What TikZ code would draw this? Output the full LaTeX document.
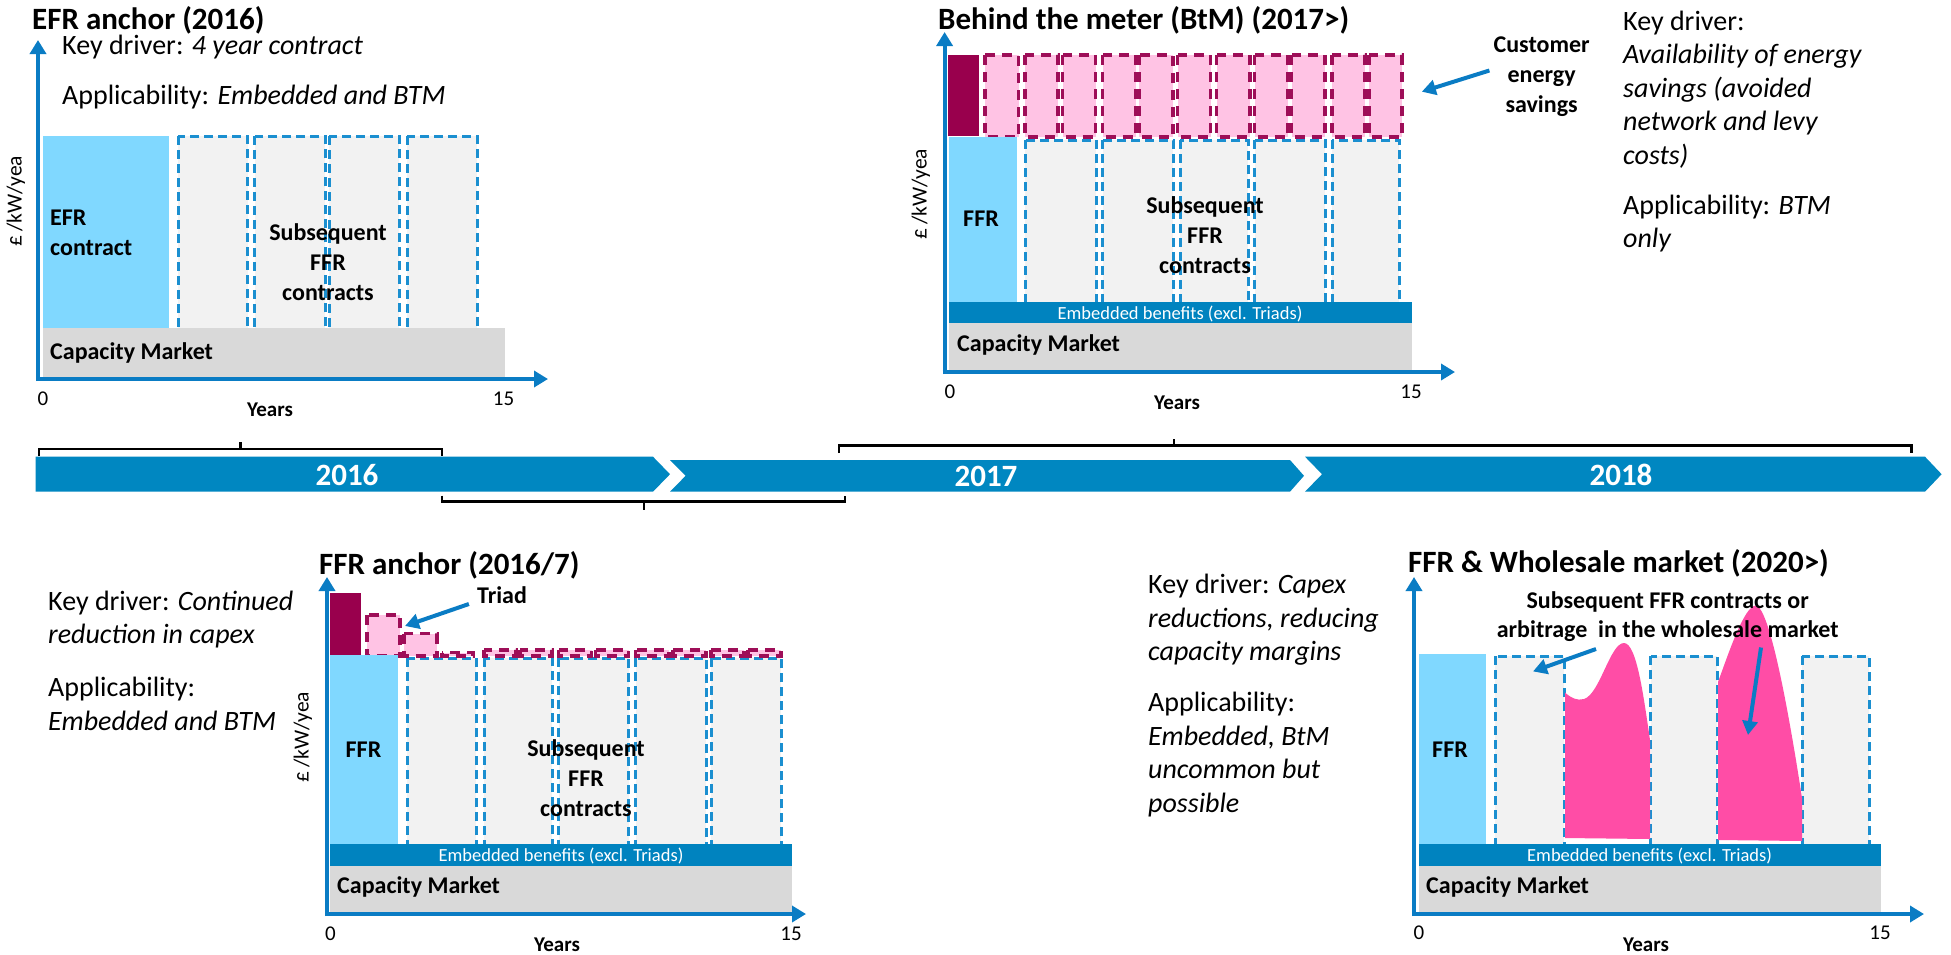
\documentclass[tikz,border=0pt]{standalone}
\usepackage{fontspec}
\setmainfont{Carlito}
\usetikzlibrary{arrows.meta}
\definecolor{tl}{HTML}{0087C1}
\definecolor{axb}{HTML}{0A7CC4}
\definecolor{lb}{HTML}{80D8FF}
\definecolor{gbox}{HTML}{F2F2F2}
\definecolor{dashb}{HTML}{1B8FD0}
\definecolor{cmk}{HTML}{D9D9D9}
\definecolor{embc}{HTML}{0083BF}
\definecolor{dm}{HTML}{99004D}
\definecolor{pk}{HTML}{FFC3E4}
\definecolor{pkb}{HTML}{9E0E58}
\definecolor{hp}{HTML}{FF4DA6}
\tikzset{
 ttl/.style={font=\fontsize{31}{36}\selectfont\bfseries, inner sep=0pt},
 body/.style={font=\fontsize{28}{33.5}\selectfont, inner sep=0pt, align=left},
 lab/.style={font=\fontsize{24}{30}\selectfont\bfseries, inner sep=0pt, align=center},
 labl/.style={lab, align=left},
 emb/.style={font=\fontsize{18.5}{20}\selectfont, text=white, inner sep=0pt},
 ticklab/.style={font=\fontsize{21}{24}\selectfont, inner sep=0pt},
 yrs/.style={font=\fontsize{21}{24}\selectfont\bfseries, inner sep=0pt},
 ylab/.style={font=\fontsize{21.5}{24}\selectfont, rotate=90, inner sep=0pt},
 tly/.style={font=\fontsize{31}{34}\selectfont\bfseries, text=white, inner sep=0pt},
 chartaxis/.style={draw=axb, line width=4pt, -{Triangle[length=14pt,width=16pt]}},
 callout/.style={draw=axb, line width=4pt, -{Triangle[length=14pt,width=15pt]}},
 fbox/.style={draw=dashb, fill=gbox, line width=3pt, dash pattern=on 9pt off 5pt},
 pbox/.style={draw=pkb, fill=pk, line width=3.2pt, dash pattern=on 10pt off 7pt},
 brk/.style={draw=black, line width=2.5pt},
}
\begin{document}
\begin{tikzpicture}[x=1pt,y=-1pt]
\useasboundingbox (0,0) rectangle (1951,954);
\fill[white] (0,0) rectangle (1951,954);

% ================= Panel 1: EFR anchor =================
\fill[lb] (43,136) rectangle (169,328);
\foreach \a/\b in {178/247.5, 254.6/325, 329/399, 407/477}
  \draw[fbox] (\a,136) rectangle (\b,329);
\fill[cmk] (43,328) rectangle (505,378);
\draw[chartaxis] (38,381) -- (38,40);
\draw[chartaxis] (36,379) -- (548,379);
\node[ttl, anchor=west] (t1) at (32,20) {EFR anchor (2016)};
\node[body, anchor=west] (k1) at (62,47) {Key driver: \textit{4 year contract}};
\node[body, anchor=west] (a1) at (62,97) {Applicability: \textit{Embedded and BTM}};
\node[labl, anchor=west] (efr1) at (50,232.5) {EFR\\contract};
\node[lab] (sub1) at (328,262) {Subsequent\\FFR\\contracts};
\node[lab, anchor=west] (cm1) at (50,353) {Capacity Market};
\node[ticklab] (z1) at (43,398.5) {0};
\node[ticklab] (f1) at (503.6,398.5) {15};
\node[yrs] (y1) at (270,410) {Years};
\node[ylab] (yl1) at (16,201) {£\,/kW/yea};

% ================= Panel 2: Behind the meter =================
\fill[dm] (947.5,55) rectangle (978.6,136);
\foreach \a/\b in {985/1018.6, 1025/1058, 1062.5/1095.7, 1102.5/1135.7, 1139/1173, 1177.5/1210.7, 1216.8/1250, 1254.6/1288, 1291.8/1325, 1332/1365, 1369/1402}
  \draw[pbox] (\a,55) rectangle (\b,137);
\fill[lb] (949,137) rectangle (1017,304);
\foreach \a/\b in {1025/1096, 1102.5/1173, 1180/1248, 1254.6/1325, 1332/1399}
  \draw[fbox] (\a,140) rectangle (\b,305);
\fill[embc] (949,302) rectangle (1412,323);
\fill[cmk] (949,323) rectangle (1412,370);
\draw[chartaxis] (944.6,374) -- (944.6,32);
\draw[chartaxis] (942.6,372) -- (1455,372);
\node[ttl, anchor=west] (t2) at (938,20) {Behind the meter (BtM) (2017>)};
\node[lab] (ffr2) at (981,219) {FFR};
\node[lab] (sub2) at (1205,235) {Subsequent\\FFR\\contracts};
\node[emb] (eb2) at (1180,314) {Embedded benefits (excl. Triads)};
\node[lab, anchor=west] (cm2) at (957,345) {Capacity Market};
\node[ticklab] (z2) at (950,392) {0};
\node[ticklab] (f2) at (1411,392) {15};
\node[yrs] (y2) at (1177,403) {Years};
\node[ylab] (yl2) at (921,194) {£\,/kW/yea};
\node[lab] (ces) at (1541.6,76.5) {Customer\\energy\\savings};
\coordinate (cesT) at (1421.8,91.7);
\draw[callout] (ces.west) ++(-4,-6) -- (cesT);
\node[body, anchor=west] (k2) at (1623,89.3) {Key driver:\\\textit{Availability of energy}\\\textit{savings (avoided}\\\textit{network and levy}\\\textit{costs)}};
\node[body, anchor=west] (a2) at (1623,223.4) {Applicability: \textit{BTM}\\\textit{only}};

% ================= Timeline =================
\fill[tl] (35.6,456.7) -- (653,456.7) -- (670,474.2) -- (653,491.7) -- (35.6,491.7) -- cycle;
\fill[tl] (670,460) -- (1290,460) -- (1304,475.8) -- (1290,491.7) -- (670,491.7) -- (685.6,475.8) -- cycle;
\fill[tl] (1305,456.7) -- (1925,456.7) -- (1941.6,474.2) -- (1925,491.7) -- (1305,491.7) -- (1322,474.2) -- cycle;
\node[tly] (y2016) at (347,475) {2016};
\node[tly] (y2017) at (986,476) {2017};
\node[tly] (y2018) at (1621,475) {2018};
\draw[brk] (39,456) -- (39,449) -- (442,449) -- (442,456);
\draw[brk] (240.6,449) -- (240.6,442);
\draw[brk] (442,495.7) -- (442,501.7) -- (845,501.7) -- (845,495.7);
\draw[brk] (644,501.7) -- (644,510);
\draw[brk] (839,453) -- (839,445.7) -- (1911.6,445.7) -- (1911.6,453);
\draw[brk] (1174,445.7) -- (1174,439);

% ================= Panel 3: FFR anchor =================
\fill[dm] (329.5,593) rectangle (361,655);
\foreach \a/\b in {407/476, 484/552, 558.6/628.7, 635.5/706, 711/781}
  \draw[fbox] (\a,658) rectangle (\b,845);
\draw[pbox] (367,615) rectangle (400,656);
\draw[pbox] (404,633.5) rectangle (437,656);
\draw[pbox] (442,652.6) rectangle (473,656);
\foreach \a/\b in {484/516, 520/552, 558.6/591.5, 595.5/628.7, 635.5/669, 673/706, 711/744, 748/781}
  \draw[pbox] (\a,650) rectangle (\b,656);
\fill[lb] (329.5,655) rectangle (397.5,844);
\fill[embc] (329.5,844) rectangle (792,866);
\fill[cmk] (329.5,866) rectangle (792,912);
\draw[chartaxis] (327,916) -- (327,577);
\draw[chartaxis] (325,914) -- (806,914);
\node[ttl, anchor=west] (t3) at (319,565) {FFR anchor (2016/7)};
\node[lab] (ffr3) at (363.5,750) {FFR};
\node[lab] (sub3) at (586,778) {Subsequent\\FFR\\contracts};
\node[emb] (eb3) at (561,856) {Embedded benefits (excl. Triads)};
\node[lab, anchor=west] (cm3) at (337,887) {Capacity Market};
\node[ticklab] (z3) at (330.5,933.6) {0};
\node[ticklab] (f3) at (791,933.6) {15};
\node[yrs] (y3) at (557,944.5) {Years};
\node[ylab] (yl3) at (303,737) {£\,/kW/yea};
\node[lab] (triad) at (502,595) {Triad};
\coordinate (triadT) at (405,626);
\draw[callout] (triad.west) ++(-8,9) -- (triadT);
\node[body, anchor=west] (k3) at (48,619.3) {Key driver: \textit{Continued}\\\textit{reduction in capex}};
\node[body, anchor=west] (a3) at (48,703.7) {Applicability:\\\textit{Embedded and BTM}};

% ================= Panel 4: FFR & Wholesale =================
\fill[lb] (1419,654) rectangle (1485.6,844);
\foreach \a/\b in {1495/1564, 1650.6/1717, 1802/1869}
  \draw[fbox] (\a,656) rectangle (\b,845);
\fill[hp] (1565,838) -- (1565,692.5) .. controls (1571,698) and (1577,701) .. (1584,699)
  .. controls (1600,694) and (1610,643) .. (1624,643)
  .. controls (1637,643) and (1644,700) .. (1650,740) -- (1650,839) -- cycle;
\fill[hp] (1718,840) -- (1718,682) .. controls (1728,655) and (1744,606) .. (1755.6,605.6)
  .. controls (1770,606) and (1790,720) .. (1802,798) -- (1802,841) -- cycle;
\fill[embc] (1419,844) rectangle (1881,866);
\fill[cmk] (1419,866) rectangle (1881,912);
\draw[chartaxis] (1414,916) -- (1414,577);
\draw[chartaxis] (1412,914) -- (1924,914);
\node[ttl, anchor=west] (t4) at (1408,563) {FFR \& Wholesale market (2020>)};
\node[lab] (ffr4) at (1450,750) {FFR};
\node[emb] (eb4) at (1649.6,856) {Embedded benefits (excl. Triads)};
\node[lab, anchor=west] (cm4) at (1426,887) {Capacity Market};
\node[ticklab] (z4) at (1419,932.6) {0};
\node[ticklab] (f4) at (1880,932.6) {15};
\node[yrs] (y4) at (1646,944.5) {Years};
\node[lab, font=\fontsize{24}{29}\selectfont\bfseries] (sub4) at (1667.7,616.5) {Subsequent FFR contracts or\\arbitrage \ in the wholesale market};
\coordinate (w1T) at (1533,671.4);
\coordinate (w2T) at (1748,735);
\draw[callout] (1596,649) -- (w1T);
\draw[callout] (1761,647.5) -- (w2T);
\node[body, anchor=west] (k4) at (1148,620) {Key driver: \textit{Capex}\\\textit{reductions, reducing}\\\textit{capacity margins}};
\node[body, anchor=west] (a4) at (1148,754.5) {Applicability:\\\textit{Embedded, BtM}\\\textit{uncommon but}\\\textit{possible}};
\end{tikzpicture}
\end{document}
